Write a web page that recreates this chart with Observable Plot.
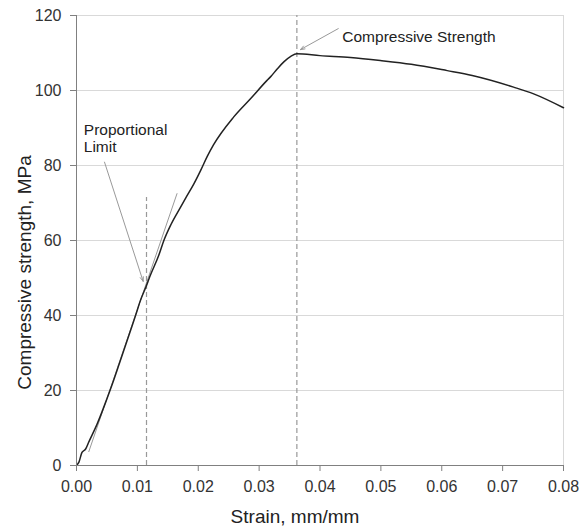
<!DOCTYPE html>
<html>
<head>
<meta charset="utf-8">
<script src="https://cdn.jsdelivr.net/npm/d3@7"></script>
<script src="https://cdn.jsdelivr.net/npm/@observablehq/plot@0.6"></script>
<style>
  html, body { margin: 0; padding: 0; background: #fff; }
</style>
</head>
<body>
<div id="chart"></div>
<script>
// Stress-strain curve (strain mm/mm, stress MPa)
const strain = [0, 0.0004, 0.0009, 0.0015, 0.002, 0.0034, 0.005, 0.0059, 0.007, 0.008, 0.009, 0.0097, 0.0105, 0.0115, 0.012, 0.0135, 0.01435, 0.0155, 0.0171, 0.018, 0.01928, 0.0204, 0.0215, 0.0225, 0.0258, 0.02858, 0.0313, 0.0319, 0.033, 0.0341, 0.0352, 0.0362, 0.040, 0.045, 0.0499, 0.055, 0.0609, 0.065, 0.0718, 0.0751, 0.080];
const stress = [0, 0.9, 3.5, 4.4, 6.2, 11.1, 17.8, 21.8, 27, 31.8, 36.6, 40, 44, 48, 50.2, 56, 60, 64.2, 68.9, 71.5, 75.1, 78.7, 82.5, 85.5, 92.9, 97.8, 102.7, 103.7, 105.8, 107.7, 109.1, 109.8, 109.3, 108.8, 108, 107, 105.3, 104, 100.9, 99.1, 95.4];

const xTicks = [0, 0.01, 0.02, 0.03, 0.04, 0.05, 0.06, 0.07, 0.08];
const yTicks = [0, 20, 40, 60, 80, 100, 120];

// Annotations (data units)
const propLimitStrain = 0.0115, propLimitTop = 71.5;
const peakStrain = 0.0362, peakTop = 120;
const tangentLine = [{x1: 0.002, y1: 3.6, x2: 0.01653, y2: 72.6}];
const leaderArrows = [
  {x1: 0.0046, y1: 80.9, x2: 0.01095, y2: 49.1},
  {x1: 0.0430, y1: 116.5, x2: 0.03678, y2: 110.9}
];
const labels = [
  {x: 0.0012, y: 91.5, text: "Proportional\nLimit"},
  {x: 0.04366, y: 116.3, text: "Compressive Strength"}
];

const curve = strain.map((s, i) => ({strain: s, stress: stress[i]}));

const chart = Plot.plot({
  width: 581,
  height: 529,
  marginLeft: 76,
  marginRight: 18,
  marginTop: 15,
  marginBottom: 64,
  style: {fontFamily: "'Liberation Sans', Arial, sans-serif", background: "#fff", color: "#333"},
  x: {domain: [0, 0.08]},
  y: {domain: [0, 120]},
  marks: [
    Plot.gridY(yTicks.slice(1), {stroke: "#d9d9d9", strokeOpacity: 1}),
    Plot.ruleX([0.08], {stroke: "#d9d9d9"}),
    Plot.ruleX([propLimitStrain], {y1: 0, y2: propLimitTop, stroke: "#999", strokeWidth: 1.2, strokeDasharray: "5,3"}),
    Plot.ruleX([peakStrain], {y1: 0, y2: peakTop, stroke: "#999", strokeWidth: 1.2, strokeDasharray: "5,3"}),
    Plot.link(tangentLine, {x1: "x1", y1: "y1", x2: "x2", y2: "y2", stroke: "#999", strokeWidth: 1}),
    Plot.line(curve, {x: "strain", y: "stress", stroke: "#222", strokeWidth: 1.5, curve: "monotone-x"}),
    Plot.arrow(leaderArrows, {x1: "x1", y1: "y1", x2: "x2", y2: "y2", stroke: "#999", strokeWidth: 1, headLength: 7, headAngle: 40}),
    Plot.text(labels, {x: "x", y: "y", text: "text", textAnchor: "start", lineAnchor: "top", lineHeight: 1.13, fontSize: 15.5, fill: "#222"}),
    Plot.axisX({ticks: xTicks, tickFormat: d3.format(".2f"), tickSize: 6, tickPadding: 9, fontSize: 16, label: null, stroke: "#808080", fill: "#333"}),
    Plot.axisY({ticks: yTicks, tickSize: 6, tickPadding: 9, fontSize: 16, label: null, stroke: "#808080", fill: "#333"}),
    Plot.ruleX([0], {stroke: "#808080"}),
    Plot.ruleY([0], {stroke: "#808080"}),
    Plot.text(["Strain, mm/mm"], {frameAnchor: "bottom", dy: 51, dx: -25, textAnchor: "middle", lineAnchor: "middle", fontSize: 19, fill: "#222"}),
    Plot.text(["Compressive strength, MPa"], {frameAnchor: "left", dx: -52, dy: 32, rotate: -90, textAnchor: "middle", lineAnchor: "middle", fontSize: 19, fill: "#222"})
  ]
});
document.getElementById("chart").appendChild(chart);
</script>
</body>
</html>
